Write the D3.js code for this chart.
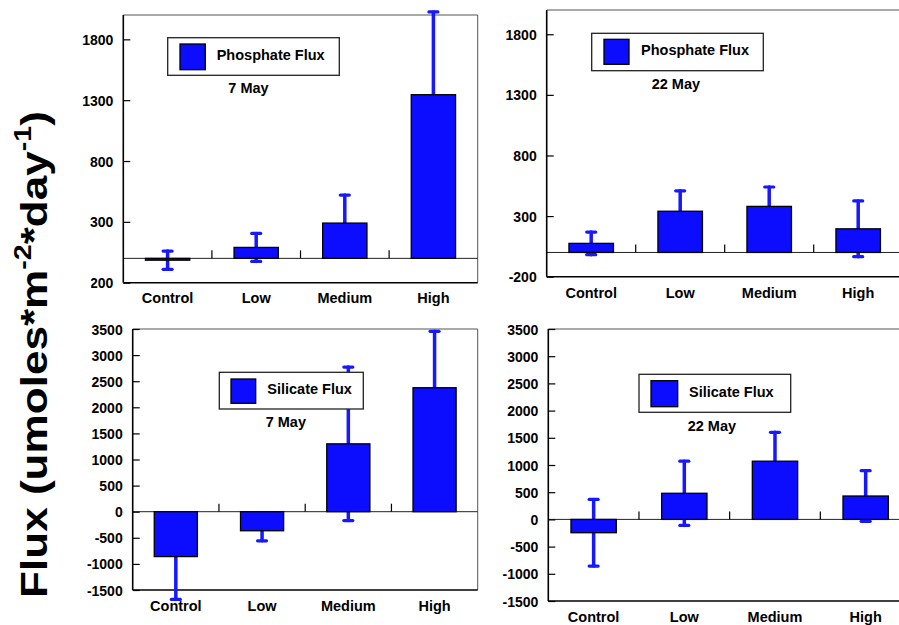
<!DOCTYPE html>
<html lang="en">
<head>
<meta charset="utf-8">
<title>Flux panels</title>
<script src="https://cdn.jsdelivr.net/npm/d3@7"></script>
<style>
  body { margin: 0; background: #fff; }
  svg { display: block; }
  text { font-family: "Liberation Sans", Arial, sans-serif; font-weight: bold; fill: #000; }
</style>
</head>
<body>
<script>
// data
var categories = ["Control", "Low", "Medium", "High"];

var phos7Mean = [-15, 90, 290, 1345];
var phos7Err = [75, 115, 230, 680];
var phos22Mean = [75, 340, 380, 195];
var phos22Err = [93, 168, 160, 230];

var sil7Mean = [-860, -365, 1300, 2375];
var sil7Err = [820, 192, 1470, 1080];
var sil22Mean = [-245, 480, 1070, 430];
var sil22Err = [613, 590, 530, 465];

var phosDomain = [-200, 2000];
var phosTicks = [-200, 300, 800, 1300, 1800];
var silDomain = [-1500, 3500];
var silTicks = [-1500, -1000, -500, 0, 500, 1000, 1500, 2000, 2500, 3000, 3500];

var w = 899, h = 625;
var barColor = "#0c0cff";
var errColor = "#1818ff";

var svg = d3.select("body").append("svg")
  .attr("width", w)
  .attr("height", h);

// in the top-left panel the minus of the lowest tick label is cut off
svg.append("defs").append("clipPath")
  .attr("id", "cutMinus")
  .attr("clipPathUnits", "objectBoundingBox")
  .append("rect")
  .attr("x", 0.21).attr("y", -0.5).attr("width", 1).attr("height", 2);

var panels = [
  { mean: phos7Mean, err: phos7Err, domain: phosDomain, ticks: phosTicks,
    left: 123.3, top: 15, right: 477.7, bottom: 282.7, rightBorder: true, cutLowest: true,
    legend: [167.7, 37.7, 339.3, 75.3], swatch: [180, 44, 205.3, 69.7], legText: [216.7, 60],
    name: "Phosphate Flux", date: "7 May", dateAt: [228.3, 93], labelY: 303.3 },
  { mean: phos22Mean, err: phos22Err, domain: phosDomain, ticks: phosTicks,
    left: 546.7, top: 10, right: 902.7, bottom: 276.7, rightBorder: false,
    legend: [591.7, 33.3, 763.3, 70.7], swatch: [604, 39.3, 629, 64.3], legText: [641, 55],
    name: "Phosphate Flux", date: "22 May", dateAt: [651.7, 89.3], labelY: 297.7 },
  { mean: sil7Mean, err: sil7Err, domain: silDomain, ticks: silTicks,
    left: 132.7, top: 329, right: 477.7, bottom: 590, rightBorder: true,
    legend: [219.3, 372.3, 363.3, 409], swatch: [231, 379, 255.7, 403.3], legText: [267.3, 394],
    name: "Silicate Flux", date: "7 May", dateAt: [265.7, 426.7], labelY: 611 },
  { mean: sil22Mean, err: sil22Err, domain: silDomain, ticks: silTicks,
    left: 548.3, top: 329, right: 911, bottom: 601, rightBorder: false,
    legend: [639, 374.3, 790.7, 412.3], swatch: [651, 380.7, 677.7, 406.7], legText: [689, 397.3],
    name: "Silicate Flux", date: "22 May", dateAt: [687.7, 430.7], labelY: 622 }
];

panels.forEach(function(p) {
  var g = svg.append("g");

  var x = d3.scaleBand()
    .domain(categories)
    .range([p.left, p.right])
    .padding(0);

  var y = d3.scaleLinear()
    .domain(p.domain)
    .range([p.bottom, p.top]);

  var rows = categories.map(function(c, i) {
    return { cat: c, mean: p.mean[i], err: p.err[i] };
  });

  // frame: top and (maybe) right in grey
  g.append("line")
    .attr("x1", p.left).attr("x2", p.right)
    .attr("y1", p.top).attr("y2", p.top)
    .attr("stroke", "#555").attr("stroke-width", 1);
  if (p.rightBorder) {
    g.append("line")
      .attr("x1", p.right).attr("x2", p.right)
      .attr("y1", p.top).attr("y2", p.bottom)
      .attr("stroke", "#555").attr("stroke-width", 1);
  }

  // bottom axis line
  g.append("line")
    .attr("x1", p.left).attr("x2", p.right)
    .attr("y1", p.bottom).attr("y2", p.bottom)
    .attr("stroke", "#000").attr("stroke-width", 1.6);

  // zero line
  g.append("line")
    .attr("x1", p.left).attr("x2", p.right)
    .attr("y1", y(0)).attr("y2", y(0))
    .attr("stroke", "#222").attr("stroke-width", 1);

  // category separator ticks on the zero line
  g.selectAll(".sep")
    .data(categories.slice(1))
    .enter()
    .append("line")
    .attr("x1", function(d) { return x(d); })
    .attr("x2", function(d) { return x(d); })
    .attr("y1", y(0))
    .attr("y2", y(0) - 8)
    .attr("stroke", "#000").attr("stroke-width", 1.2);

  // y axis, ticks pointing inward, plain hyphen for negatives
  var yAxis = d3.axisRight(y)
    .tickValues(p.ticks)
    .tickSize(7)
    .tickFormat(function(d) { return String(d); });
  var ax = g.append("g")
    .attr("transform", "translate(" + p.left + ",0)")
    .call(yAxis);
  ax.select(".domain").remove();
  ax.selectAll(".tick line").attr("stroke", "#000").attr("stroke-width", 1.2);
  ax.selectAll(".tick text")
    .attr("x", -10)
    .attr("dy", "0.36em")
    .attr("text-anchor", "end")
    .style("font-size", "14px");
  if (p.cutLowest) {
    ax.selectAll(".tick text")
      .filter(function(d) { return d === p.ticks[0]; })
      .attr("clip-path", "url(#cutMinus)");
  }

  g.append("line")
    .attr("x1", p.left).attr("x2", p.left)
    .attr("y1", p.top).attr("y2", p.bottom)
    .attr("stroke", "#000").attr("stroke-width", 1.6);

  var bw = x.bandwidth() * 0.5;

  // error bars (drawn behind the bars)
  var eb = g.selectAll(".err")
    .data(rows)
    .enter()
    .append("g")
    .attr("stroke", errColor)
    .attr("stroke-linecap", "round");
  eb.append("line")
    .attr("x1", function(d) { return x(d.cat) + x.bandwidth() / 2; })
    .attr("x2", function(d) { return x(d.cat) + x.bandwidth() / 2; })
    .attr("y1", function(d) { return y(d.mean - d.err); })
    .attr("y2", function(d) { return y(d.mean + d.err); })
    .attr("stroke-width", 3.5);
  [-1, 1].forEach(function(s) {
    eb.append("line")
      .attr("x1", function(d) { return x(d.cat) + x.bandwidth() / 2 - 4.5; })
      .attr("x2", function(d) { return x(d.cat) + x.bandwidth() / 2 + 4.5; })
      .attr("y1", function(d) { return y(d.mean + s * d.err); })
      .attr("y2", function(d) { return y(d.mean + s * d.err); })
      .attr("stroke-width", 3.2);
  });

  // bars
  g.selectAll(".bar")
    .data(rows)
    .enter()
    .append("rect")
    .attr("x", function(d) { return x(d.cat) + x.bandwidth() * 0.25; })
    .attr("y", function(d) { return y(Math.max(0, d.mean)); })
    .attr("width", bw)
    .attr("height", function(d) { return Math.abs(y(d.mean) - y(0)); })
    .attr("fill", barColor)
    .attr("stroke", "#000")
    .attr("stroke-width", 1.3);

  // category labels
  g.selectAll(".cat")
    .data(categories)
    .enter()
    .append("text")
    .attr("x", function(d) { return x(d) + x.bandwidth() / 2; })
    .attr("y", p.labelY)
    .attr("text-anchor", "middle")
    .style("font-size", "14.5px")
    .text(function(d) { return d; });

  // legend
  g.append("rect")
    .attr("x", p.legend[0]).attr("y", p.legend[1])
    .attr("width", p.legend[2] - p.legend[0])
    .attr("height", p.legend[3] - p.legend[1])
    .attr("fill", "#fff")
    .attr("stroke", "#222").attr("stroke-width", 1.3);
  g.append("rect")
    .attr("x", p.swatch[0]).attr("y", p.swatch[1])
    .attr("width", p.swatch[2] - p.swatch[0])
    .attr("height", p.swatch[3] - p.swatch[1])
    .attr("fill", barColor)
    .attr("stroke", "#000").attr("stroke-width", 1.3);
  g.append("text")
    .attr("x", p.legText[0]).attr("y", p.legText[1])
    .style("font-size", "14.5px")
    .text(p.name);

  g.append("text")
    .attr("x", p.dateAt[0]).attr("y", p.dateAt[1])
    .style("font-size", "14.5px")
    .text(p.date);
});

// shared y title, rotated, with superscripts
var title = svg.append("text")
  .attr("text-anchor", "middle")
  .style("font-size", "37px");
title.append("tspan").text("Flux (umoles*m");
title.append("tspan").attr("dy", -16).style("font-size", "24px").text("-2");
title.append("tspan").attr("dy", 16).text("*day");
title.append("tspan").attr("dy", -16).style("font-size", "24px").text("-1");
title.append("tspan").attr("dy", 16).text(")");

// stretch along the text so it spans the same height as in the figure
var len = title.node().getComputedTextLength();
var sx = 487 / len;
title.attr("transform", "translate(47,354.5) rotate(-90) scale(" + sx + ",1)");
</script>
</body>
</html>
